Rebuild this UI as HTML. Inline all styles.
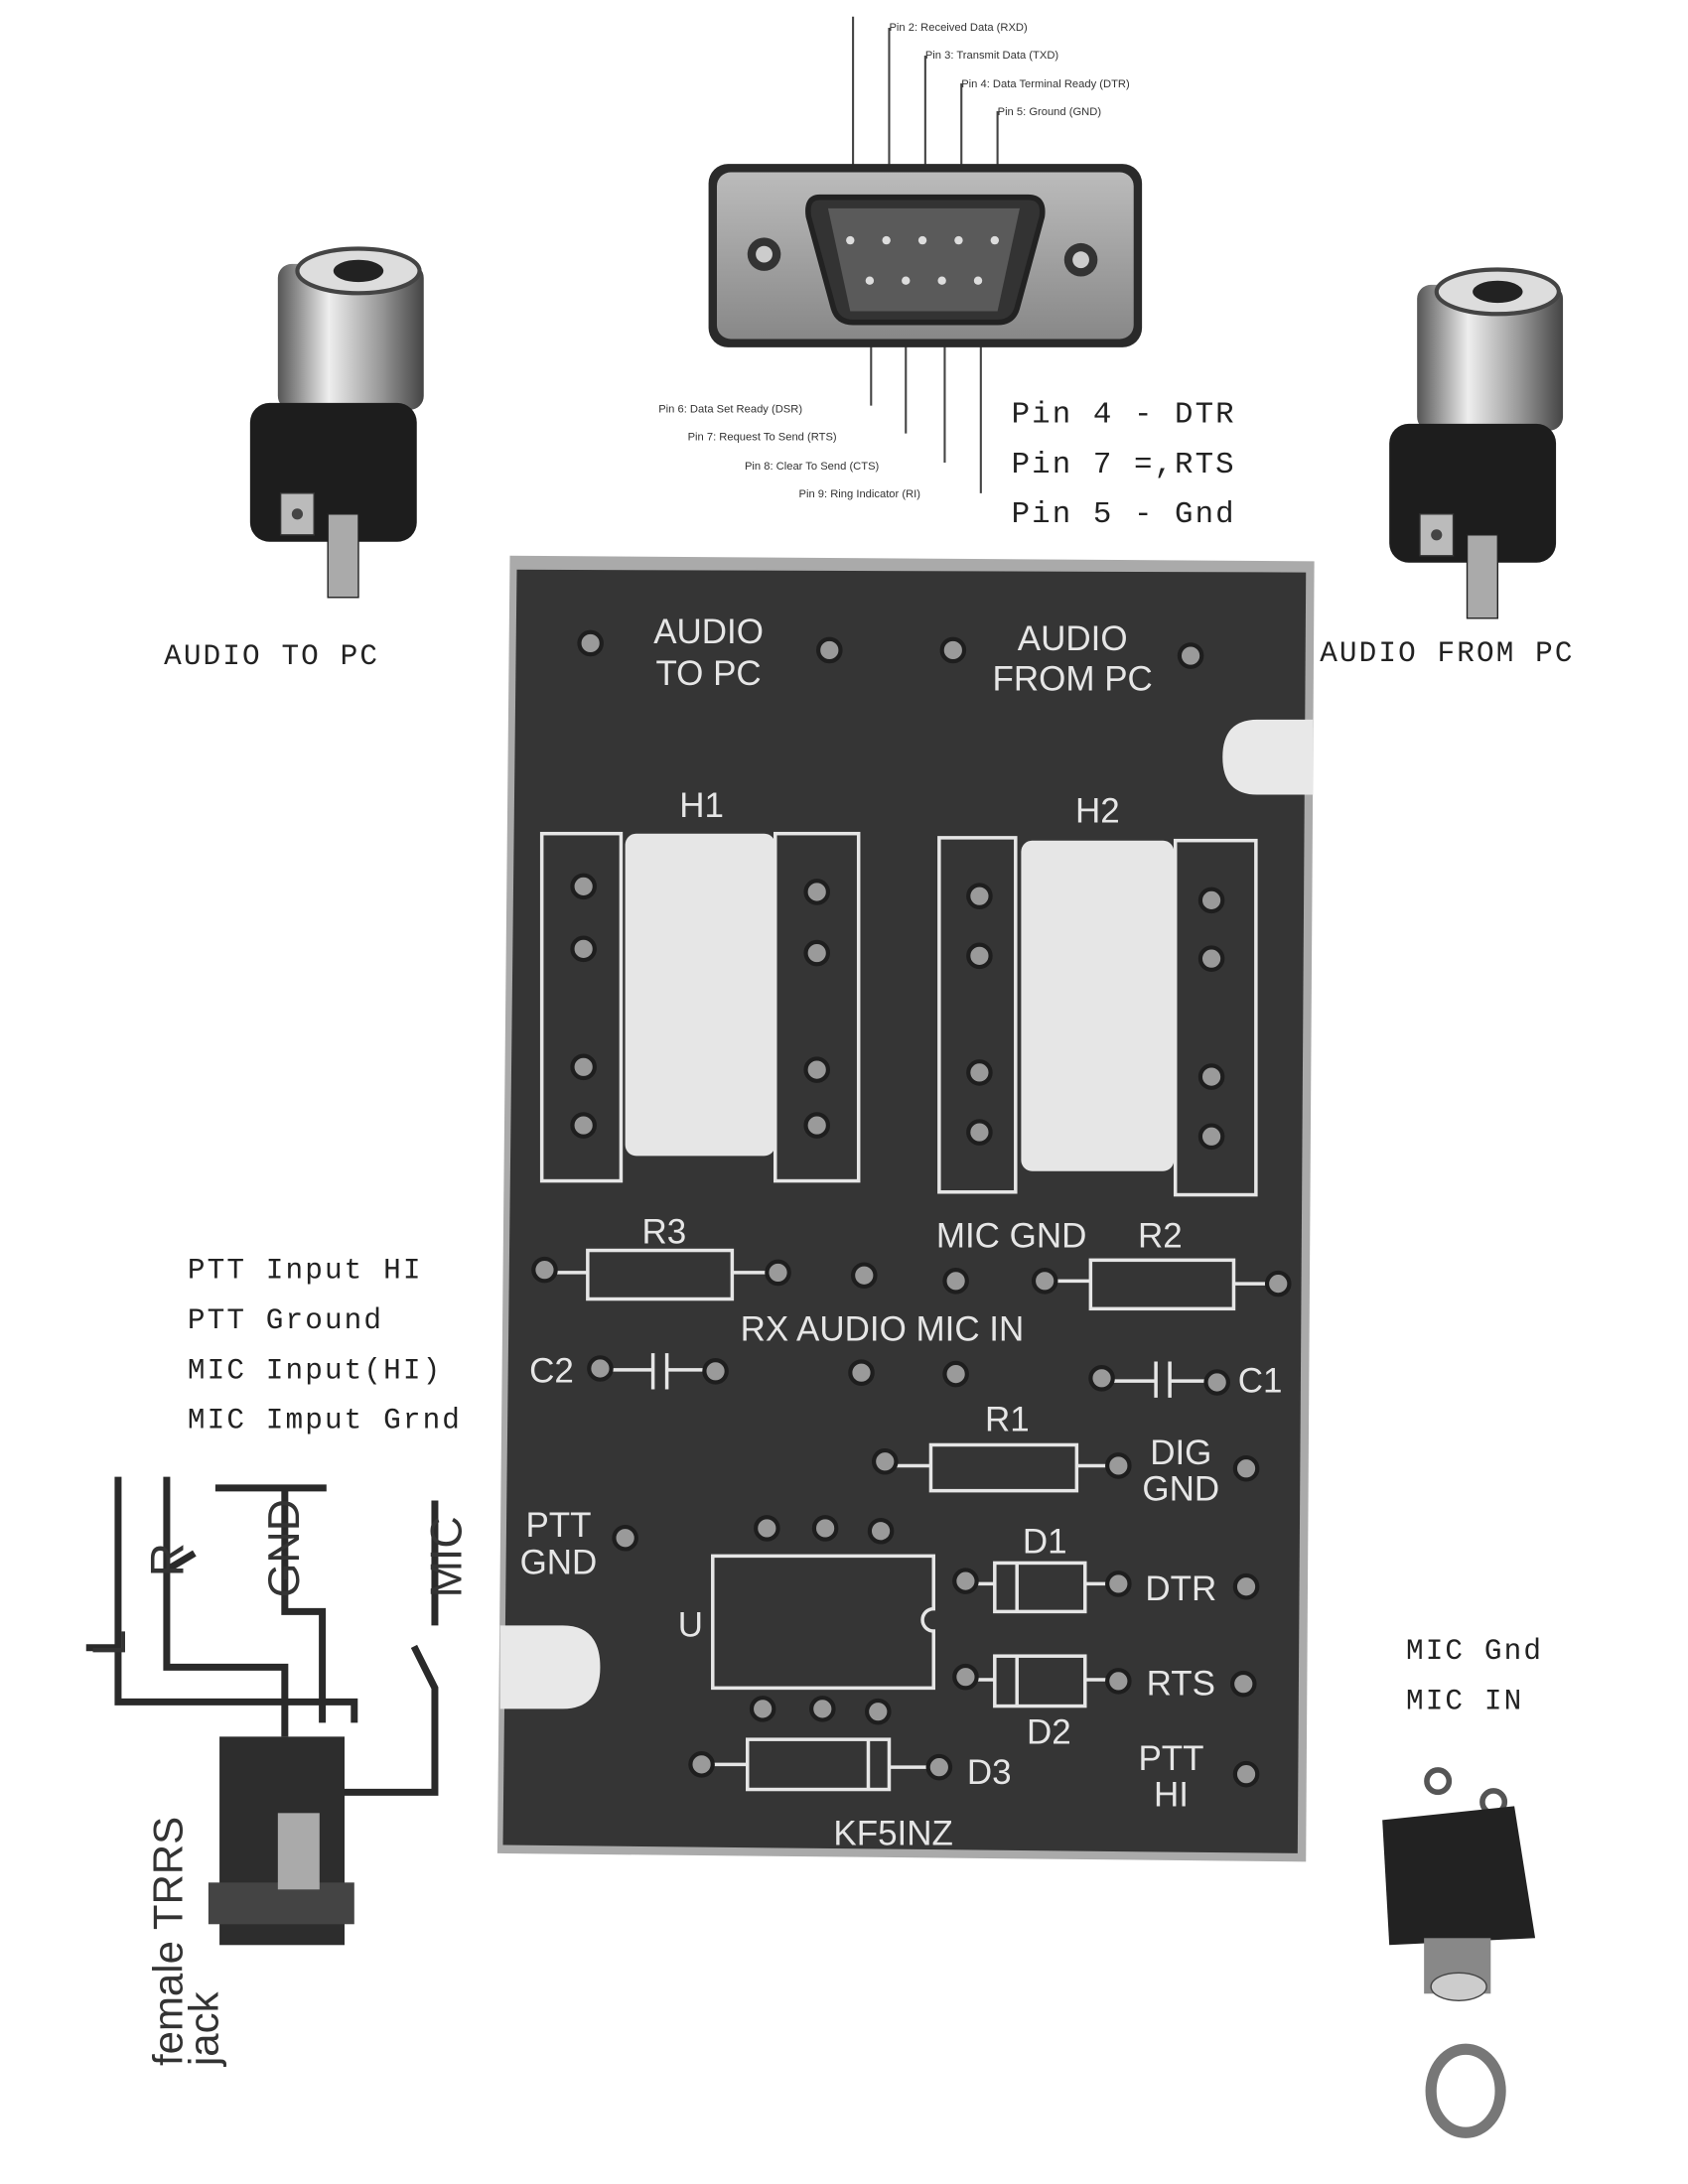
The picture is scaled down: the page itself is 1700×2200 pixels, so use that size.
<!DOCTYPE html>
<html><head><meta charset="utf-8"><style>
html,body{margin:0;padding:0;background:#fff;}
svg{display:block;}
.m{font-family:"Liberation Mono",monospace;fill:#222;letter-spacing:1.5px;}
.p{font-family:"Liberation Sans",sans-serif;fill:#e6e6e6;font-size:25px;}
.sm{font-family:"Liberation Sans",sans-serif;fill:#333;font-size:8px;}
</style></head><body>
<svg width="1700" height="2200" viewBox="0 0 1215 1572" preserveAspectRatio="none" xmlns="http://www.w3.org/2000/svg">
<defs>
<linearGradient id="chr" x1="0" x2="1"><stop offset="0" stop-color="#555"/><stop offset=".35" stop-color="#eee"/><stop offset=".7" stop-color="#999"/><stop offset="1" stop-color="#444"/></linearGradient>
<linearGradient id="db" x1="0" y1="0" x2="0" y2="1"><stop offset="0" stop-color="#bbb"/><stop offset="1" stop-color="#888"/></linearGradient>
<g id="pad"><circle r="8" fill="#9a9a9a" stroke="#1e1e1e" stroke-width="3"/></g>
</defs>
<rect width="1215" height="1572" fill="#fff"/>

<!-- DB9 -->
<g stroke="#444" stroke-width="1.5">
<line x1="614" y1="12" x2="614" y2="140"/><line x1="640" y1="20" x2="640" y2="140"/>
<line x1="666" y1="40" x2="666" y2="140"/><line x1="692" y1="60" x2="692" y2="140"/>
<line x1="718" y1="80" x2="718" y2="140"/>
<line x1="627" y1="225" x2="627" y2="292"/><line x1="652" y1="225" x2="652" y2="312"/>
<line x1="680" y1="225" x2="680" y2="333"/><line x1="706" y1="225" x2="706" y2="355"/>
</g>
<text class="sm" x="640" y="22">Pin 2: Received Data (RXD)</text>
<text class="sm" x="666" y="42">Pin 3: Transmit Data (TXD)</text>
<text class="sm" x="692" y="63">Pin 4: Data Terminal Ready (DTR)</text>
<text class="sm" x="718" y="83">Pin 5: Ground (GND)</text>
<text class="sm" x="474" y="297">Pin 6: Data Set Ready (DSR)</text>
<text class="sm" x="495" y="317">Pin 7: Request To Send (RTS)</text>
<text class="sm" x="536" y="338">Pin 8: Clear To Send (CTS)</text>
<text class="sm" x="575" y="358">Pin 9: Ring Indicator (RI)</text>
<rect x="510" y="118" width="312" height="132" rx="14" fill="#2a2a2a"/>
<rect x="516" y="124" width="300" height="120" rx="10" fill="url(#db)"/>
<path d="M590 142 H740 Q752 142 750 156 L732 222 Q729 232 718 232 H614 Q603 232 600 222 L582 156 Q580 142 590 142Z" fill="#333" stroke="#222" stroke-width="4"/>
<path d="M596 150 H734 L718 224 H612Z" fill="#5a5a5a"/>
<circle cx="550" cy="183" r="12" fill="#333"/><circle cx="550" cy="183" r="6" fill="#ccc"/>
<circle cx="778" cy="187" r="12" fill="#333"/><circle cx="778" cy="187" r="6" fill="#ccc"/>
<g fill="#ddd"><circle cx="612" cy="173" r="3"/><circle cx="638" cy="173" r="3"/><circle cx="664" cy="173" r="3"/><circle cx="690" cy="173" r="3"/><circle cx="716" cy="173" r="3"/>
<circle cx="626" cy="202" r="3"/><circle cx="652" cy="202" r="3"/><circle cx="678" cy="202" r="3"/><circle cx="704" cy="202" r="3"/></g>

<text class="m" x="728" y="304" font-size="22">Pin 4 - DTR</text>
<text class="m" x="728" y="340" font-size="22">Pin 7 =,RTS</text>
<text class="m" x="728" y="376" font-size="22">Pin 5 - Gnd</text>

<!-- audio jacks -->
<g id="jk">
<rect x="200" y="190" width="105" height="105" rx="10" fill="url(#chr)"/>
<rect x="180" y="290" width="120" height="100" rx="14" fill="#1d1d1d"/>
<rect x="202" y="355" width="24" height="30" fill="#bbb" stroke="#333"/><circle cx="214" cy="370" r="4" fill="#444"/>
<rect x="236" y="370" width="22" height="60" fill="#aaa" stroke="#222"/>
<ellipse cx="258" cy="195" rx="44" ry="16" fill="#ddd" stroke="#444" stroke-width="3"/>
<ellipse cx="258" cy="195" rx="18" ry="8" fill="#222"/>
</g>
<use href="#jk" transform="translate(820,15)"/>
<text class="m" x="118" y="478" font-size="21">AUDIO TO PC</text>
<text class="m" x="950" y="476" font-size="21">AUDIO FROM PC</text>

<!-- PCB -->
<path d="M367 400 L946 404 L940 1340 L358 1334Z" fill="#aaa"/>
<path d="M372 410 L940 412 L934 1334 L362 1328Z" fill="#353535"/>
<path d="M945 518 H905 Q880 518 880 545 Q880 572 905 572 H945Z" fill="#e8e8e8"/>
<path d="M360 1170 H405 Q432 1170 432 1200 Q432 1230 405 1230 H360Z" fill="#e8e8e8"/>
<g class="p" text-anchor="middle">
<text x="510" y="463">AUDIO</text><text x="510" y="493">TO PC</text>
<text x="772" y="468">AUDIO</text><text x="772" y="497">FROM PC</text>
<text x="505" y="588">H1</text><text x="790" y="592">H2</text>
<text x="478" y="895">R3</text><text x="728" y="898">MIC GND</text><text x="835" y="898">R2</text>
<text x="635" y="965">RX AUDIO MIC IN</text>
<text x="397" y="995">C2</text><text x="907" y="1002">C1</text>
<text x="725" y="1030">R1</text>
<text x="850" y="1054">DIG</text><text x="850" y="1080">GND</text>
<text x="402" y="1106">PTT</text><text x="402" y="1133">GND</text>
<text x="497" y="1178">U</text>
<text x="752" y="1118">D1</text><text x="850" y="1152">DTR</text>
<text x="850" y="1220">RTS</text><text x="755" y="1255">D2</text>
<text x="712" y="1284">D3</text>
<text x="843" y="1274">PTT</text><text x="843" y="1300">HI</text>
<text x="643" y="1328">KF5INZ</text>
</g>
<g fill="none" stroke="#e6e6e6" stroke-width="2.5">
<rect x="390" y="600" width="57" height="250"/><rect x="558" y="600" width="60" height="250"/>
<rect x="676" y="603" width="55" height="255"/><rect x="846" y="605" width="58" height="255"/>
<rect x="423" y="900" width="104" height="35"/><line x1="400" y1="916" x2="423" y2="916"/><line x1="527" y1="916" x2="552" y2="916"/>
<rect x="785" y="907" width="103" height="35"/><line x1="760" y1="922" x2="785" y2="922"/><line x1="888" y1="924" x2="912" y2="924"/>
<line x1="440" y1="986" x2="470" y2="986"/><line x1="470" y1="974" x2="470" y2="1000"/><line x1="480" y1="974" x2="480" y2="1000"/><line x1="480" y1="986" x2="508" y2="986"/>
<line x1="801" y1="994" x2="832" y2="994"/><line x1="832" y1="980" x2="832" y2="1006"/><line x1="842" y1="980" x2="842" y2="1006"/><line x1="842" y1="994" x2="868" y2="994"/>
<rect x="670" y="1040" width="105" height="33"/><line x1="645" y1="1055" x2="670" y2="1055"/><line x1="775" y1="1055" x2="797" y2="1055"/>
<path d="M513 1120 H672 V1158 A8 8 0 0 0 672 1174 V1215 H513Z"/>
<rect x="716" y="1125" width="65" height="35"/><line x1="732" y1="1125" x2="732" y2="1160"/><line x1="703" y1="1140" x2="716" y2="1140"/><line x1="781" y1="1140" x2="797" y2="1140"/>
<rect x="716" y="1192" width="65" height="36"/><line x1="732" y1="1192" x2="732" y2="1228"/><line x1="703" y1="1209" x2="716" y2="1209"/><line x1="781" y1="1209" x2="797" y2="1209"/>
<rect x="538" y="1252" width="102" height="36"/><line x1="625" y1="1252" x2="625" y2="1288"/><line x1="513" y1="1270" x2="538" y2="1270"/><line x1="640" y1="1272" x2="668" y2="1272"/>
</g>
<rect x="450" y="600" width="108" height="232" rx="8" fill="#e6e6e6"/>
<rect x="735" y="605" width="110" height="238" rx="8" fill="#e6e6e6"/>
<g>
<use href="#pad" x="425" y="463"/><use href="#pad" x="597" y="468"/><use href="#pad" x="686" y="468"/><use href="#pad" x="857" y="472"/>
<use href="#pad" x="420" y="638"/><use href="#pad" x="420" y="683"/><use href="#pad" x="420" y="768"/><use href="#pad" x="420" y="810"/>
<use href="#pad" x="588" y="642"/><use href="#pad" x="588" y="686"/><use href="#pad" x="588" y="770"/><use href="#pad" x="588" y="810"/>
<use href="#pad" x="705" y="645"/><use href="#pad" x="705" y="688"/><use href="#pad" x="705" y="772"/><use href="#pad" x="705" y="815"/>
<use href="#pad" x="872" y="648"/><use href="#pad" x="872" y="690"/><use href="#pad" x="872" y="775"/><use href="#pad" x="872" y="818"/>
<use href="#pad" x="392" y="914"/><use href="#pad" x="560" y="916"/><use href="#pad" x="622" y="918"/><use href="#pad" x="688" y="922"/><use href="#pad" x="752" y="922"/><use href="#pad" x="920" y="924"/>
<use href="#pad" x="432" y="985"/><use href="#pad" x="515" y="987"/><use href="#pad" x="620" y="988"/><use href="#pad" x="688" y="989"/><use href="#pad" x="793" y="992"/><use href="#pad" x="876" y="995"/>
<use href="#pad" x="637" y="1052"/><use href="#pad" x="805" y="1055"/><use href="#pad" x="897" y="1057"/>
<use href="#pad" x="450" y="1107"/><use href="#pad" x="552" y="1100"/><use href="#pad" x="594" y="1100"/><use href="#pad" x="634" y="1102"/>
<use href="#pad" x="549" y="1230"/><use href="#pad" x="592" y="1230"/><use href="#pad" x="632" y="1232"/>
<use href="#pad" x="695" y="1138"/><use href="#pad" x="805" y="1140"/><use href="#pad" x="897" y="1142"/>
<use href="#pad" x="695" y="1207"/><use href="#pad" x="805" y="1210"/><use href="#pad" x="895" y="1212"/>
<use href="#pad" x="505" y="1270"/><use href="#pad" x="676" y="1272"/><use href="#pad" x="897" y="1277"/>
</g>

<!-- left labels -->
<text class="m" x="135" y="920" font-size="21">PTT Input HI</text>
<text class="m" x="135" y="956" font-size="21">PTT Ground</text>
<text class="m" x="135" y="992" font-size="21">MIC Input(HI)</text>
<text class="m" x="135" y="1028" font-size="21">MIC Imput Grnd</text>

<!-- TRRS -->
<g fill="none" stroke="#2a2a2a" stroke-width="5">
<path d="M85 1063 V1225 H255 V1240"/><path d="M62 1186 H85"/>
<path d="M120 1063 V1200 H205 V1250"/><path d="M120 1130 L140 1118"/>
<path d="M155 1071 H235"/><path d="M205 1071 V1160 H232 V1240"/>
<path d="M298 1185 L313 1215 V1290 H245"/><path d="M313 1170 V1080"/>
</g>
<rect x="158" y="1250" width="90" height="150" fill="#2d2d2d"/>
<rect x="150" y="1355" width="105" height="30" fill="#444"/>
<rect x="200" y="1305" width="30" height="55" fill="#aaa"/>
<text transform="translate(132,1135) rotate(-90)" font-family="Liberation Sans,sans-serif" font-size="34" fill="#333">R</text>
<text transform="translate(90,1192) rotate(-90)" font-family="Liberation Sans,sans-serif" font-size="34" fill="#333">L</text>
<text transform="translate(215,1150) rotate(-90)" font-family="Liberation Sans,sans-serif" font-size="32" fill="#333">GND</text>
<text transform="translate(332,1150) rotate(-90)" font-family="Liberation Sans,sans-serif" font-size="32" fill="#333">MIC</text>
<text transform="translate(131,1487) rotate(-90)" font-family="Liberation Sans,sans-serif" font-size="30" fill="#333">female TRRS</text>
<text transform="translate(157,1487) rotate(-90)" font-family="Liberation Sans,sans-serif" font-size="30" fill="#333">jack</text>

<!-- mic jack -->
<text class="m" x="1012" y="1194" font-size="21">MIC Gnd</text>
<text class="m" x="1012" y="1230" font-size="21">MIC IN</text>
<circle cx="1035" cy="1282" r="8" fill="none" stroke="#555" stroke-width="4"/>
<circle cx="1075" cy="1297" r="8" fill="none" stroke="#555" stroke-width="4"/>
<path d="M995 1310 L1090 1300 L1105 1395 L1000 1400Z" fill="#222"/>
<rect x="1025" y="1395" width="48" height="40" fill="#888"/>
<ellipse cx="1050" cy="1430" rx="20" ry="10" fill="#ccc" stroke="#444"/>
<ellipse cx="1055" cy="1505" rx="25" ry="30" fill="none" stroke="#777" stroke-width="8"/>
</svg>
</body></html>
